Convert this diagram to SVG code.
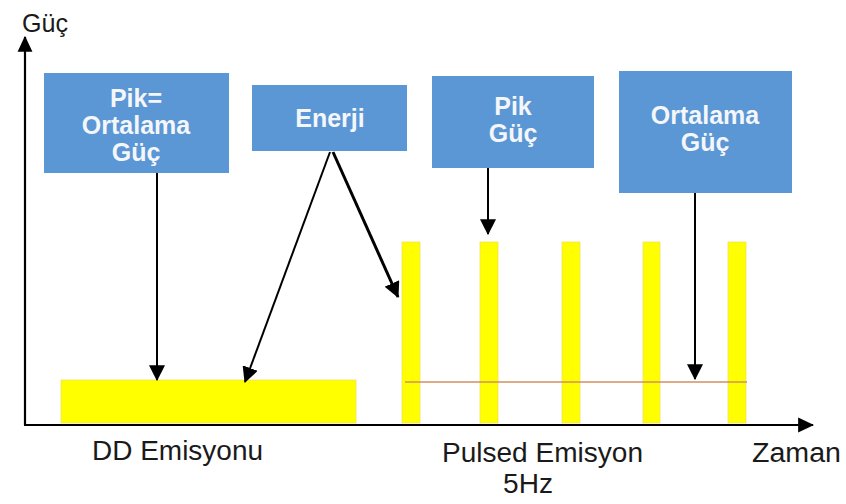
<svg xmlns="http://www.w3.org/2000/svg" width="846" height="504" viewBox="0 0 846 504">
<style>
.box{fill:#5b97d4;}
.bt{font-family:"Liberation Sans",Arial,sans-serif;font-weight:bold;font-size:25px;fill:#f4f6fa;text-anchor:middle;}
.lbl{font-family:"Liberation Sans",Arial,sans-serif;font-size:27px;fill:#1a1a1a;}
.bar{fill:#ffff00;stroke:#f0e060;stroke-width:0.8;}
.ax{stroke:#000;stroke-width:2.2;fill:none;}
.con{stroke:#000;stroke-width:2;fill:none;}
.con3{stroke:#000;stroke-width:3;fill:none;}
</style>
<defs>
<marker id="ah" markerUnits="userSpaceOnUse" markerWidth="16" markerHeight="16" viewBox="0 0 14 14" refX="13" refY="7" orient="auto">
<path d="M0,0 L14,7 L0,14 Z" fill="#000"/>
</marker>
<marker id="axh" markerUnits="userSpaceOnUse" markerWidth="16" markerHeight="16" viewBox="0 0 14 14" refX="13" refY="7" orient="auto">
<path d="M0,0.5 L14,7 L0,13.5 Z" fill="#000"/>
</marker>
</defs>
<rect width="846" height="504" fill="#fff"/>

<g id="bars">
<rect class="bar" x="61" y="380" width="295" height="43"/>
<rect class="bar" x="402" y="242" width="18" height="181"/>
<rect class="bar" x="480" y="242" width="18" height="181"/>
<rect class="bar" x="562" y="242" width="18" height="181"/>
<rect class="bar" x="643" y="242" width="17" height="181"/>
<rect class="bar" x="728" y="242" width="18" height="181"/>
<line x1="405" y1="382" x2="747" y2="382" stroke="#d09060" stroke-width="1.4"/>
</g>

<g id="axes">
<line class="ax" x1="25" y1="425" x2="25" y2="37" marker-end="url(#axh)"/>
<line class="ax" x1="24" y1="425" x2="813" y2="425" marker-end="url(#axh)"/>
<text class="lbl" x="22" y="32" style="font-size:26px" textLength="46" lengthAdjust="spacingAndGlyphs">Güç</text>
<text class="lbl" x="92" y="460" textLength="171" lengthAdjust="spacingAndGlyphs">DD Emisyonu</text>
<text class="lbl" x="442" y="462" textLength="201" lengthAdjust="spacingAndGlyphs">Pulsed Emisyon</text>
<text class="lbl" x="503" y="493" textLength="50" lengthAdjust="spacingAndGlyphs">5Hz</text>
<text class="lbl" x="752" y="462" textLength="89" lengthAdjust="spacingAndGlyphs">Zaman</text>
</g>

<g id="node-pik-ortalama">
<rect class="box" x="44" y="73" width="185" height="100"/>
<text class="bt" x="136" y="107">Pik=</text>
<text class="bt" x="136" y="134">Ortalama</text>
<text class="bt" x="136" y="161">Güç</text>
</g>

<g id="node-enerji">
<rect class="box" x="252" y="85" width="155" height="66"/>
<text class="bt" x="330" y="127">Enerji</text>
</g>

<g id="node-pik-guc">
<rect class="box" x="432" y="76" width="162" height="92"/>
<text class="bt" x="513" y="115">Pik</text>
<text class="bt" x="513" y="142">Güç</text>
</g>

<g id="node-ortalama-guc">
<rect class="box" x="619" y="71" width="173" height="122"/>
<text class="bt" x="705" y="124">Ortalama</text>
<text class="bt" x="705" y="151">Güç</text>
</g>

<g id="connectors">
<line class="con" x1="157" y1="173" x2="157" y2="380" marker-end="url(#ah)"/>
<line class="con" x1="330" y1="152" x2="245" y2="382" marker-end="url(#ah)"/>
<line class="con3" x1="333" y1="152" x2="398" y2="297" marker-end="url(#ah)"/>
<line class="con" x1="488" y1="168" x2="488" y2="234" marker-end="url(#ah)"/>
<line class="con" x1="695" y1="193" x2="695" y2="379" marker-end="url(#ah)"/>
</g>
</svg>
